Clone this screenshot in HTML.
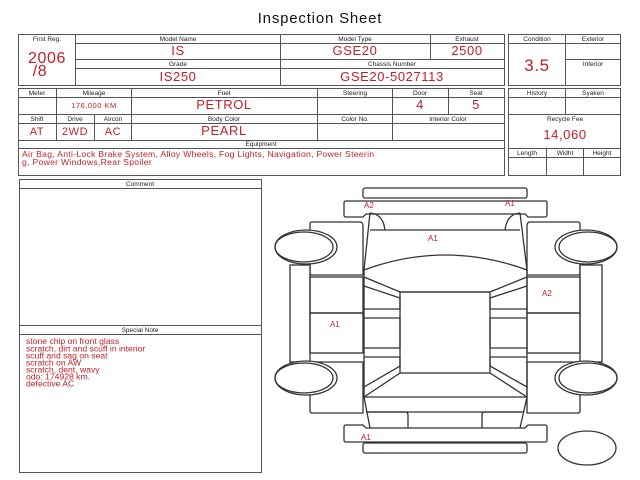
<!DOCTYPE html>
<html><head><meta charset="utf-8"><style>
html,body{margin:0;padding:0;background:#fff;}
svg{display:block;font-family:"Liberation Sans",sans-serif;}
.l{font-size:6.5px;fill:#222;text-anchor:middle;}
.v{font-size:13px;fill:#c0202a;text-anchor:middle;letter-spacing:0.6px;}
.b{fill:none;stroke:#555;stroke-width:1;}
.c{fill:#fff;stroke:#333;stroke-width:1.3;}
.cn{fill:none;stroke:#333;stroke-width:1.3;}
.r{fill:#c0202a;font-size:8px;}
</style></head><body>
<svg width="640" height="480" viewBox="0 0 640 480">
<text x="320" y="23" text-anchor="middle" font-size="15" fill="#111" letter-spacing="0.8">Inspection Sheet</text>
<rect class="b" x="18.5" y="34.5" width="486" height="51"/>
<line class="b" x1="75.5" y1="34" x2="75.5" y2="85"/>
<line class="b" x1="280.5" y1="34" x2="280.5" y2="85"/>
<line class="b" x1="430.5" y1="34" x2="430.5" y2="59"/>
<line class="b" x1="76" y1="43.5" x2="504" y2="43.5"/>
<line class="b" x1="76" y1="59.5" x2="504" y2="59.5"/>
<line class="b" x1="76" y1="68.5" x2="504" y2="68.5"/>
<text class="l" x="47" y="41">First Reg.</text>
<text class="l" x="178" y="41">Model Name</text>
<text class="l" x="355" y="41">Model Type</text>
<text class="l" x="467" y="41">Exhaust</text>
<text class="l" x="178" y="66">Grade</text>
<text class="l" x="392" y="66">Chassis Number</text>
<text class="v" x="47" y="63" style="font-size:16px">2006</text>
<text class="v" x="40" y="76" style="font-size:16px">/8</text>
<text class="v" x="178" y="55">IS</text>
<text class="v" x="355" y="55">GSE20</text>
<text class="v" x="467" y="55">2500</text>
<text class="v" x="178" y="81">IS250</text>
<text class="v" x="392" y="81">GSE20-5027113</text>
<rect class="b" x="508.5" y="34.5" width="112" height="51"/>
<line class="b" x1="565.5" y1="34" x2="565.5" y2="85"/>
<line class="b" x1="509" y1="43.5" x2="620" y2="43.5"/>
<line class="b" x1="566" y1="59.5" x2="620" y2="59.5"/>
<text class="l" x="537" y="41">Condition</text>
<text class="l" x="593" y="41">Exterior</text>
<text class="l" x="593" y="66">Interior</text>
<text class="v" x="537" y="71" style="font-size:17px">3.5</text>
<rect class="b" x="18.5" y="88.5" width="486" height="87"/>
<line class="b" x1="19" y1="97.5" x2="504" y2="97.5"/>
<line class="b" x1="19" y1="114.5" x2="504" y2="114.5"/>
<line class="b" x1="19" y1="123.5" x2="504" y2="123.5"/>
<line class="b" x1="19" y1="140.5" x2="504" y2="140.5"/>
<line class="b" x1="19" y1="148.5" x2="504" y2="148.5"/>
<line class="b" x1="56.5" y1="88" x2="56.5" y2="140"/>
<line class="b" x1="131.5" y1="88" x2="131.5" y2="140"/>
<line class="b" x1="317.5" y1="88" x2="317.5" y2="140"/>
<line class="b" x1="392.5" y1="88" x2="392.5" y2="140"/>
<line class="b" x1="448.5" y1="88" x2="448.5" y2="114"/>
<line class="b" x1="94.5" y1="114" x2="94.5" y2="140"/>
<text class="l" x="37" y="95">Meter</text>
<text class="l" x="94" y="95">Mileage</text>
<text class="l" x="224" y="95">Fuel</text>
<text class="l" x="355" y="95">Steering</text>
<text class="l" x="420" y="95">Door</text>
<text class="l" x="476" y="95">Seat</text>
<text class="l" x="37" y="121">Shift</text>
<text class="l" x="75" y="121">Drive</text>
<text class="l" x="113" y="121">Aircon</text>
<text class="l" x="224" y="121">Body Color</text>
<text class="l" x="355" y="121">Color No.</text>
<text class="l" x="448" y="121">Interior Color</text>
<text class="l" x="261" y="146">Equipment</text>
<text class="v" x="94" y="108" style="font-size:7.5px;letter-spacing:0.5px">176,000 KM</text>
<text class="v" x="224" y="109">PETROL</text>
<text class="v" x="420" y="109">4</text>
<text class="v" x="476" y="109">5</text>
<text class="v" x="37" y="135" style="font-size:11px">AT</text>
<text class="v" x="75" y="135" style="font-size:11px">2WD</text>
<text class="v" x="113" y="135" style="font-size:11px">AC</text>
<text class="v" x="224" y="135">PEARL</text>
<text x="22" y="157" font-size="8.6" fill="#c0202a" letter-spacing="0.3">Air Bag, Anti-Lock Brake System, Alloy Wheels, Fog Lights, Navigation, Power Steerin</text>
<text x="22" y="165" font-size="8.6" fill="#c0202a" letter-spacing="0.3">g, Power Windows,Rear Spoiler</text>
<rect class="b" x="508.5" y="88.5" width="112" height="87"/>
<line class="b" x1="509" y1="97.5" x2="620" y2="97.5"/>
<line class="b" x1="565.5" y1="88" x2="565.5" y2="114"/>
<line class="b" x1="509" y1="114.5" x2="620" y2="114.5"/>
<line class="b" x1="509" y1="148.5" x2="620" y2="148.5"/>
<line class="b" x1="509" y1="157.5" x2="620" y2="157.5"/>
<line class="b" x1="546.5" y1="148" x2="546.5" y2="175"/>
<line class="b" x1="583.5" y1="148" x2="583.5" y2="175"/>
<text class="l" x="537" y="95">History</text>
<text class="l" x="593" y="95">Syaken</text>
<text class="l" x="565" y="121">Recycle Fee</text>
<text class="v" x="565" y="139">14,060</text>
<text class="l" x="527" y="155">Length</text>
<text class="l" x="565" y="155">Widht</text>
<text class="l" x="602" y="155">Height</text>
<rect class="b" x="19.5" y="179.5" width="242" height="293"/>
<line class="b" x1="20" y1="188.5" x2="261" y2="188.5"/>
<line class="b" x1="20" y1="325.5" x2="261" y2="325.5"/>
<line class="b" x1="20" y1="334.5" x2="261" y2="334.5"/>
<text class="l" x="140" y="186">Comment</text>
<text class="l" x="140" y="332">Special Note</text>
<g font-size="8.6" fill="#c0202a">
<text x="26" y="344">stone chip on front glass</text>
<text x="26" y="351.5">scratch, dirt and scuff in interior</text>
<text x="26" y="358.5">scuff and sag on seat</text>
<text x="26" y="365.5">scratch on AW</text>
<text x="26" y="372.5">scratch, dent, wavy</text>
<text x="26" y="379.5">odo: 174928 km.</text>
<text x="26" y="386.5">defective AC</text>
</g>
<rect class="c" x="363" y="188" width="164" height="10" rx="2"/>
<path class="c" d="M346 201 H546 Q547 201 547 203 V214 Q547 217 545 217 H528 L525 214 H366 L363 217 H346 Q344 217 344 215 V203 Q344 201 346 201Z"/>
<path class="c" d="M312 222 H360 Q363 222 363 226 V275 H312 Q310 275 310 273 V224 Q310 222 312 222Z"/>
<path class="c" d="M530 222 H578 Q580 222 580 224 V273 Q580 275 578 275 H527 V226 Q527 222 530 222Z"/>
<rect class="c" x="290" y="265" width="20" height="97"/>
<rect class="c" x="580" y="265" width="22" height="97"/>
<rect class="cn" x="310" y="277" width="53" height="36"/>
<rect class="cn" x="310" y="313" width="53" height="40"/>
<rect class="cn" x="527" y="277" width="53" height="36"/>
<rect class="cn" x="527" y="313" width="53" height="40"/>
<path class="c" d="M310 362 H363 V413 H312 Q310 413 310 411Z"/>
<path class="c" d="M527 362 H580 V411 Q580 413 578 413 H527Z"/>
<ellipse class="c" cx="306" cy="247" rx="31" ry="17"/><ellipse class="cn" cx="304" cy="247" rx="29" ry="15"/>
<ellipse class="c" cx="586" cy="247" rx="31" ry="17"/><ellipse class="cn" cx="588" cy="247" rx="29" ry="15"/>
<ellipse class="c" cx="306" cy="378" rx="31" ry="17"/><ellipse class="cn" cx="304" cy="378" rx="29" ry="15"/>
<ellipse class="c" cx="586" cy="378" rx="31" ry="17"/><ellipse class="cn" cx="588" cy="378" rx="29" ry="15"/>
<ellipse class="c" cx="587" cy="448" rx="29" ry="17"/>
<path class="cn" d="M370 213 L364 270 V397 L370 428 M520 213 L527 270 V397 L520 428"/>
<line class="cn" x1="370" y1="230" x2="520" y2="230"/>
<path class="cn" d="M370 213 Q383 214 385 230 M520 213 Q507 214 505 230"/>
<path class="cn" d="M364 270 Q445 240 527 270"/>
<path class="cn" d="M364 277 L400 292 H490 L527 277"/>
<rect class="cn" x="400" y="292" width="90" height="81"/>
<path class="cn" d="M364 286 L400 298 V309 H364 M527 286 L490 298 V309 H527"/>
<path class="cn" d="M364 318 H400 V348 H364 M527 318 H490 V348 H527"/>
<path class="cn" d="M364 357 H400 V366 L364 387 M527 357 H490 V366 L527 387"/>
<path class="cn" d="M364 397 L400 373 M527 397 L490 373"/>
<line class="cn" x1="364" y1="397" x2="527" y2="397"/>
<line class="cn" x1="366" y1="412" x2="524" y2="412"/>
<path class="cn" d="M368 412 H405 Q408 412 408 415 V428 M522 412 H485 Q482 412 482 415 V428"/>
<path class="c" d="M346 425 H363 L366 428 H525 L528 425 H545 Q547 425 547 427 V440 Q547 442 545 442 H346 Q344 442 344 440 V427 Q344 425 346 425Z"/>
<rect class="c" x="363" y="443" width="164" height="10" rx="2"/>
<text class="r" x="364" y="208">A2</text>
<text class="r" x="505" y="206">A1</text>
<text class="r" x="428" y="241">A1</text>
<text class="r" x="542" y="296">A2</text>
<text class="r" x="330" y="327">A1</text>
<text class="r" x="361" y="440">A1</text>
</svg>
</body></html>
